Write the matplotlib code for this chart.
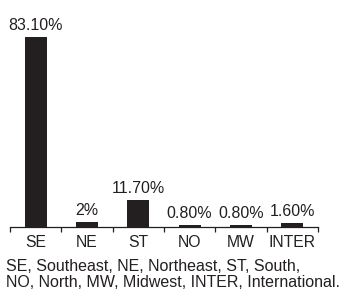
import matplotlib
matplotlib.use("Agg")
import matplotlib.pyplot as plt
import numpy as np

regions = ["SE", "NE", "ST", "NO", "MW", "INTER"]
shares = [83.1, 2.0, 11.7, 0.8, 0.8, 1.6]
share_labels = ["83.10%", "2%", "11.70%", "0.80%", "0.80%", "1.60%"]
note = "SE, Southeast, NE, Northeast, ST, South,\nNO, North, MW, Midwest, INTER, International."

plt.rcParams['font.family'] = ['Liberation Sans', 'DejaVu Sans']
ink = '#231f20'

fig = plt.figure(figsize=(3.45, 2.94), dpi=100)
ax = fig.add_axes([10 / 345, 1 - 227 / 294, 308 / 345, 217 / 294])

x = np.arange(len(regions))
ax.bar(x, shares, width=0.43, color=ink)
for xi, v, lab in zip(x, shares, share_labels):
    ax.annotate(lab, (xi, v), xytext=(0, 5.5), textcoords='offset points',
                ha='center', va='baseline', fontsize=11.5, color=ink)

ax.set_xlim(-0.5, len(regions) - 0.5)
ax.set_ylim(0, 95)
ax.set_yticks([])
for s in ['top', 'right', 'left']:
    ax.spines[s].set_visible(False)
ax.spines['bottom'].set_color(ink)
ax.spines['bottom'].set_linewidth(0.9)

ax.set_xticks(np.arange(-0.5, len(regions)), minor=False)
ax.set_xticklabels([])
ax.tick_params(axis='x', which='major', direction='out', length=3.5, width=0.9, color=ink)
ax.set_xticks(x, minor=True)
ax.set_xticklabels(regions, minor=True, fontsize=11.3, color=ink)
ax.tick_params(axis='x', which='minor', length=0, pad=6)

fig.text(6 / 345, 1 - 259 / 294, note, ha='left', va='top', fontsize=11.5,
         color=ink, linespacing=1.05)

fig.savefig('out.png', dpi=100)
